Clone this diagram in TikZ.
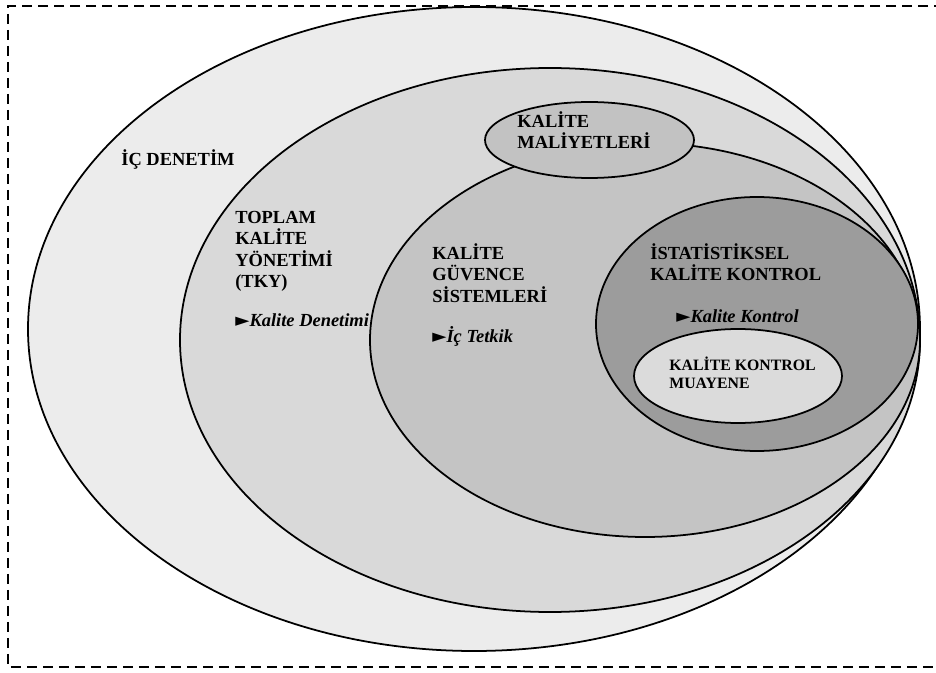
\documentclass[tikz,border=0pt]{standalone}
\usepackage{fontspec}
\setmainfont{Liberation Serif}
\newfontfamily\symfont{DejaVu Sans}
\usepackage{tikz}

\definecolor{denetim}{gray}{0.925}
\definecolor{tky}{gray}{0.85}
\definecolor{guvence}{gray}{0.77}
\definecolor{maliyet}{gray}{0.76}
\definecolor{istat}{gray}{0.61}
\definecolor{muayene}{gray}{0.86}

\newcommand{\ok}{{\symfont ►}}

\tikzset{
    zone/.style={draw=black, line width=1pt},
    lbl/.style={font=\fontsize{10.5}{12.2}\selectfont\bfseries, align=left, anchor=base west, inner sep=0pt},
    sublbl/.style={font=\fontsize{9}{10.8}\selectfont\bfseries, align=left, anchor=base west, inner sep=0pt}
}

\begin{document}
\begin{tikzpicture}
            \useasboundingbox (0, 0) rectangle (18.72, 13.44);
            \draw[dashed, dash pattern=on 0.2cm off 0.12cm, line width=1.1pt] (19.2, 13.32) -- (0.16, 13.32) -- (0.16, 0.1) -- (19.2, 0.1);

            \draw[zone, fill=denetim] (9.48, 6.86) ellipse (8.92 and 6.44);
            \draw[zone, fill=tky] (11.0, 6.64) ellipse (7.4 and 5.44);
            \draw[zone, fill=guvence] (12.9, 6.64) ellipse (5.5 and 3.94);
            \draw[zone, fill=maliyet] (11.79, 10.64) ellipse (2.09 and 0.76);
            \draw[zone, fill=istat] (15.14, 6.96) ellipse (3.22 and 2.54);
            \draw[zone, fill=muayene] (14.76, 5.92) ellipse (2.08 and 0.94);

            % multi-line labels sit on the baseline of their last line
            \node[lbl] (icdenetim) at (2.42, 10.12) {İÇ DENETİM};
            \node[lbl] (tky) at (4.70, 7.69) {TOPLAM\\KALİTE\\YÖNETİMİ\\(TKY)};
            \node[lbl] (denetimi) at (4.70, 6.90) {\ok\textit{Kalite Denetimi}};
            \node[lbl] (guvence) at (8.64, 7.40) {KALİTE\\GÜVENCE\\SİSTEMLERİ};
            \node[lbl] (tetkik) at (8.64, 6.58) {\ok\textit{İç Tetkik}};
            \node[lbl] (maliyet) at (10.34, 10.47) {KALİTE\\MALİYETLERİ};
            \node[lbl] (istat) at (13.0, 7.83) {İSTATİSTİKSEL\\KALİTE KONTROL};
            \node[lbl] (kontrol) at (13.52, 6.98) {\ok\textit{Kalite Kontrol}};
            \node[sublbl] (muayene) at (13.38, 5.66) {KALİTE KONTROL\\MUAYENE};
        \end{tikzpicture}
\end{document}
